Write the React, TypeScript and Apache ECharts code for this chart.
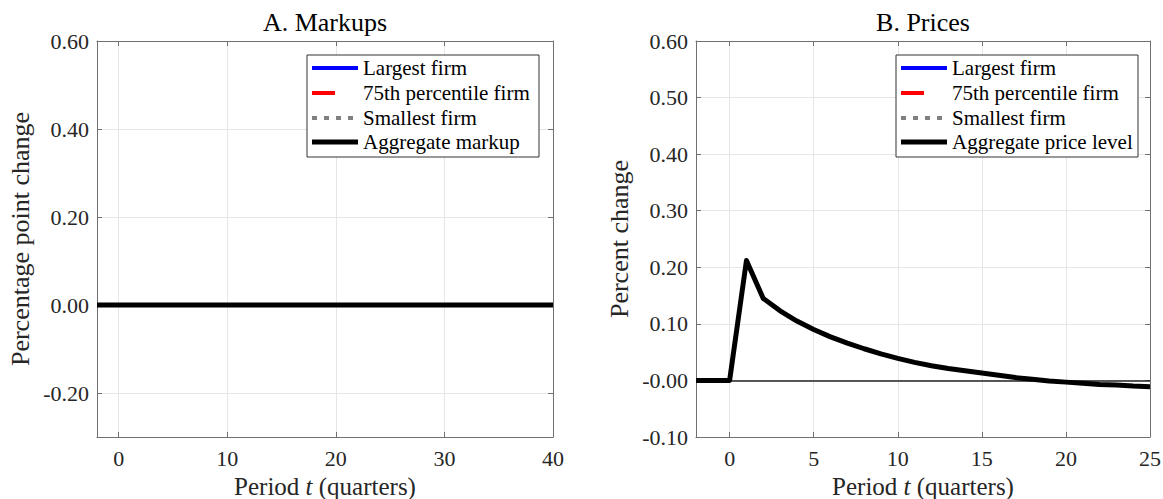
import React, { useEffect, useRef } from "react";
import * as echarts from "echarts";

// ---------- Data ----------
const periodsA = [-2, -1, 0, 1, 2, 3, 4, 5, 6, 7, 8, 9, 10, 11, 12, 13, 14, 15, 16, 17, 18, 19, 20, 21, 22, 23, 24, 25, 26, 27, 28, 29, 30, 31, 32, 33, 34, 35, 36, 37, 38, 39, 40];
const aggregateMarkup = [0, 0, 0, 0, 0, 0, 0, 0, 0, 0, 0, 0, 0, 0, 0, 0, 0, 0, 0, 0, 0, 0, 0, 0, 0, 0, 0, 0, 0, 0, 0, 0, 0, 0, 0, 0, 0, 0, 0, 0, 0, 0, 0];

const periodsB = [-2, -1, 0, 1, 2, 3, 4, 5, 6, 7, 8, 9, 10, 11, 12, 13, 14, 15, 16, 17, 18, 19, 20, 21, 22, 23, 24, 25];
const aggregatePrice = [0, 0, 0, 0.212, 0.145, 0.123, 0.105, 0.09, 0.077, 0.066, 0.056, 0.047, 0.039, 0.032, 0.026, 0.021, 0.017, 0.013, 0.009, 0.005, 0.002, -0.001, -0.003, -0.005, -0.007, -0.008, -0.01, -0.011];

// Firm-level series (not visible in the figure; legend entries only)
const largestFirmA: number[][] = [];
const pct75FirmA: number[][] = [];
const smallestFirmA: number[][] = [];
const largestFirmB: number[][] = [];
const pct75FirmB: number[][] = [];
const smallestFirmB: number[][] = [];

const xTicksA = [0, 10, 20, 30, 40];
const xLabelsA = ["0", "10", "20", "30", "40"];
const yTicksA = [-0.2, 0, 0.2, 0.4, 0.6];
const yLabelsA = ["-0.20", "0.00", "0.20", "0.40", "0.60"];

const xTicksB = [0, 5, 10, 15, 20, 25];
const xLabelsB = ["0", "5", "10", "15", "20", "25"];
const yTicksB = [-0.1, 0, 0.1, 0.2, 0.3, 0.4, 0.5, 0.6];
const yLabelsB = ["-0.10", "-0.00", "0.10", "0.20", "0.30", "0.40", "0.50", "0.60"];

const legendNamesA = ["Largest firm", "75th percentile firm", "Smallest firm", "Aggregate markup"];
const legendNamesB = ["Largest firm", "75th percentile firm", "Smallest firm", "Aggregate price level"];

// ---------- Styling ----------
const FONT = "Liberation Serif";
const AXIS = "#707070";
const GRIDC = "#e6e6e6";
const LABEL = "#262626";

const pick = (ticks: number[], labels: string[]) => (v: number) => {
  const i = ticks.findIndex((t) => Math.abs(t - v) < 1e-9);
  return i >= 0 ? labels[i] : "";
};

const pairs = (xs: number[], ys: number[]) => xs.map((x, i) => [x, ys[i]]);

function xAxes(gridIndex: number, min: number, max: number, ticks: number[], labels: string[]) {
  return [
    {
      type: "value",
      gridIndex,
      min,
      max,
      position: "bottom",
      axisLine: { show: true, onZero: false, lineStyle: { color: AXIS, width: 1 } },
      axisTick: { show: true, inside: true, length: 5, customValues: ticks, lineStyle: { color: AXIS } },
      axisLabel: { customValues: ticks, formatter: pick(ticks, labels), color: LABEL, fontFamily: FONT, fontSize: 22, margin: 10 },
      splitLine: { show: true, lineStyle: { color: GRIDC, width: 1 } },
      name: "Period {i|t} (quarters)",
      nameLocation: "middle",
      nameGap: 34,
      nameTextStyle: {
        color: LABEL,
        fontFamily: FONT,
        fontSize: 25,
        lineHeight: 26,
        rich: { i: { fontStyle: "italic", fontFamily: FONT, fontSize: 25, lineHeight: 26, color: LABEL } },
      },
    },
    {
      type: "value",
      gridIndex,
      min,
      max,
      position: "top",
      axisLine: { show: true, onZero: false, lineStyle: { color: AXIS, width: 1 } },
      axisTick: { show: true, inside: true, length: 5, customValues: ticks, lineStyle: { color: AXIS } },
      axisLabel: { show: false },
      splitLine: { show: false },
    },
  ];
}

function yAxes(gridIndex: number, min: number, max: number, ticks: number[], labels: string[], name: string) {
  return [
    {
      type: "value",
      gridIndex,
      min,
      max,
      position: "left",
      axisLine: { show: true, onZero: false, lineStyle: { color: AXIS, width: 1 } },
      axisTick: { show: true, inside: true, length: 5, customValues: ticks, lineStyle: { color: AXIS } },
      axisLabel: { customValues: ticks, formatter: pick(ticks, labels), color: LABEL, fontFamily: FONT, fontSize: 22, margin: 8 },
      splitLine: { show: true, lineStyle: { color: GRIDC, width: 1 } },
      name,
      nameLocation: "middle",
      nameGap: 64,
      nameTextStyle: { color: LABEL, fontFamily: FONT, fontSize: 26 },
    },
    {
      type: "value",
      gridIndex,
      min,
      max,
      position: "right",
      axisLine: { show: true, onZero: false, lineStyle: { color: AXIS, width: 1 } },
      axisTick: { show: true, inside: true, length: 5, customValues: ticks, lineStyle: { color: AXIS } },
      axisLabel: { show: false },
      splitLine: { show: false },
    },
  ];
}

function legendGraphic(x0: number, x1: number, names: string[]) {
  const rows = [68, 93, 118, 142];
  const ix = x0 + 5;
  const tx = x0 + 56;
  const children: any[] = [
    { type: "rect", shape: { x: x0, y: 55, width: x1 - x0, height: 102 }, style: { fill: "#fff", stroke: "#333", lineWidth: 1 }, z: 100 },
    { type: "line", shape: { x1: ix, y1: rows[0], x2: ix + 46, y2: rows[0] }, style: { stroke: "#0000ff", lineWidth: 4 }, z: 101 },
    { type: "line", shape: { x1: ix, y1: rows[1], x2: ix + 23, y2: rows[1] }, style: { stroke: "#ff0000", lineWidth: 4 }, z: 101 },
    { type: "line", shape: { x1: ix, y1: rows[2], x2: ix + 42, y2: rows[2] }, style: { stroke: "#808080", lineWidth: 4, lineDash: [5, 7] }, z: 101 },
    { type: "line", shape: { x1: ix, y1: rows[3], x2: ix + 46, y2: rows[3] }, style: { stroke: "#000", lineWidth: 5 }, z: 101 },
  ];
  names.forEach((n, i) => {
    children.push({
      type: "text",
      x: tx,
      y: rows[i],
      z: 101,
      style: { text: n, fill: "#000", fontFamily: FONT, fontSize: 21, verticalAlign: "middle", align: "left" },
    });
  });
  return children;
}

export default function App() {
  const ref = useRef<HTMLDivElement>(null);

  useEffect(() => {
    document.body.style.margin = "0";
    if (!ref.current) return;
    const chart = echarts.init(ref.current, undefined, { renderer: "svg" });

    const option: any = {
      animation: false,
      backgroundColor: "#fff",
      textStyle: { fontFamily: FONT },
      grid: [
        { left: 97, top: 41, width: 456, height: 396, outerBoundsMode: "none", containLabel: false },
        { left: 696, top: 41, width: 454, height: 396, outerBoundsMode: "none", containLabel: false },
      ],
      xAxis: [...xAxes(0, -2, 40, xTicksA, xLabelsA), ...xAxes(1, -2, 25, xTicksB, xLabelsB)],
      yAxis: [
        ...yAxes(0, -0.3, 0.6, yTicksA, yLabelsA, "Percentage point change"),
        ...yAxes(1, -0.1, 0.6, yTicksB, yLabelsB, "Percent change"),
      ],
      series: [
        { name: legendNamesA[0], type: "line", xAxisIndex: 0, yAxisIndex: 0, data: largestFirmA, showSymbol: false, lineStyle: { color: "#0000ff", width: 4 } },
        { name: legendNamesA[1], type: "line", xAxisIndex: 0, yAxisIndex: 0, data: pct75FirmA, showSymbol: false, lineStyle: { color: "#ff0000", width: 4, type: "dashed" } },
        { name: legendNamesA[2], type: "line", xAxisIndex: 0, yAxisIndex: 0, data: smallestFirmA, showSymbol: false, lineStyle: { color: "#808080", width: 4, type: "dotted" } },
        {
          name: legendNamesA[3],
          type: "line",
          xAxisIndex: 0,
          yAxisIndex: 0,
          data: pairs(periodsA, aggregateMarkup),
          showSymbol: false,
          lineStyle: { color: "#000", width: 5, join: "round" },
          z: 5,
        },
        { name: legendNamesB[0], type: "line", xAxisIndex: 2, yAxisIndex: 2, data: largestFirmB, showSymbol: false, lineStyle: { color: "#0000ff", width: 4 } },
        { name: legendNamesB[1], type: "line", xAxisIndex: 2, yAxisIndex: 2, data: pct75FirmB, showSymbol: false, lineStyle: { color: "#ff0000", width: 4, type: "dashed" } },
        { name: legendNamesB[2], type: "line", xAxisIndex: 2, yAxisIndex: 2, data: smallestFirmB, showSymbol: false, lineStyle: { color: "#808080", width: 4, type: "dotted" } },
        {
          name: legendNamesB[3],
          type: "line",
          xAxisIndex: 2,
          yAxisIndex: 2,
          data: pairs(periodsB, aggregatePrice),
          showSymbol: false,
          lineStyle: { color: "#000", width: 5, join: "round" },
          z: 5,
          markLine: {
            silent: true,
            symbol: "none",
            label: { show: false },
            lineStyle: { color: "#222", width: 1.5, type: "solid" },
            data: [{ yAxis: 0 }],
          },
        },
      ],
      graphic: [
        { type: "text", x: 325, y: 22, style: { text: "A. Markups", fill: "#000", fontFamily: FONT, fontSize: 26, align: "center", verticalAlign: "middle" } },
        { type: "text", x: 923, y: 22, style: { text: "B. Prices", fill: "#000", fontFamily: FONT, fontSize: 26, align: "center", verticalAlign: "middle" } },
        { type: "group", children: legendGraphic(307, 539, legendNamesA) },
        { type: "group", children: legendGraphic(896, 1138, legendNamesB) },
      ],
    };

    chart.setOption(option);
    return () => chart.dispose();
  }, []);

  return <div ref={ref} style={{ width: 1163, height: 499 }} />;
}
